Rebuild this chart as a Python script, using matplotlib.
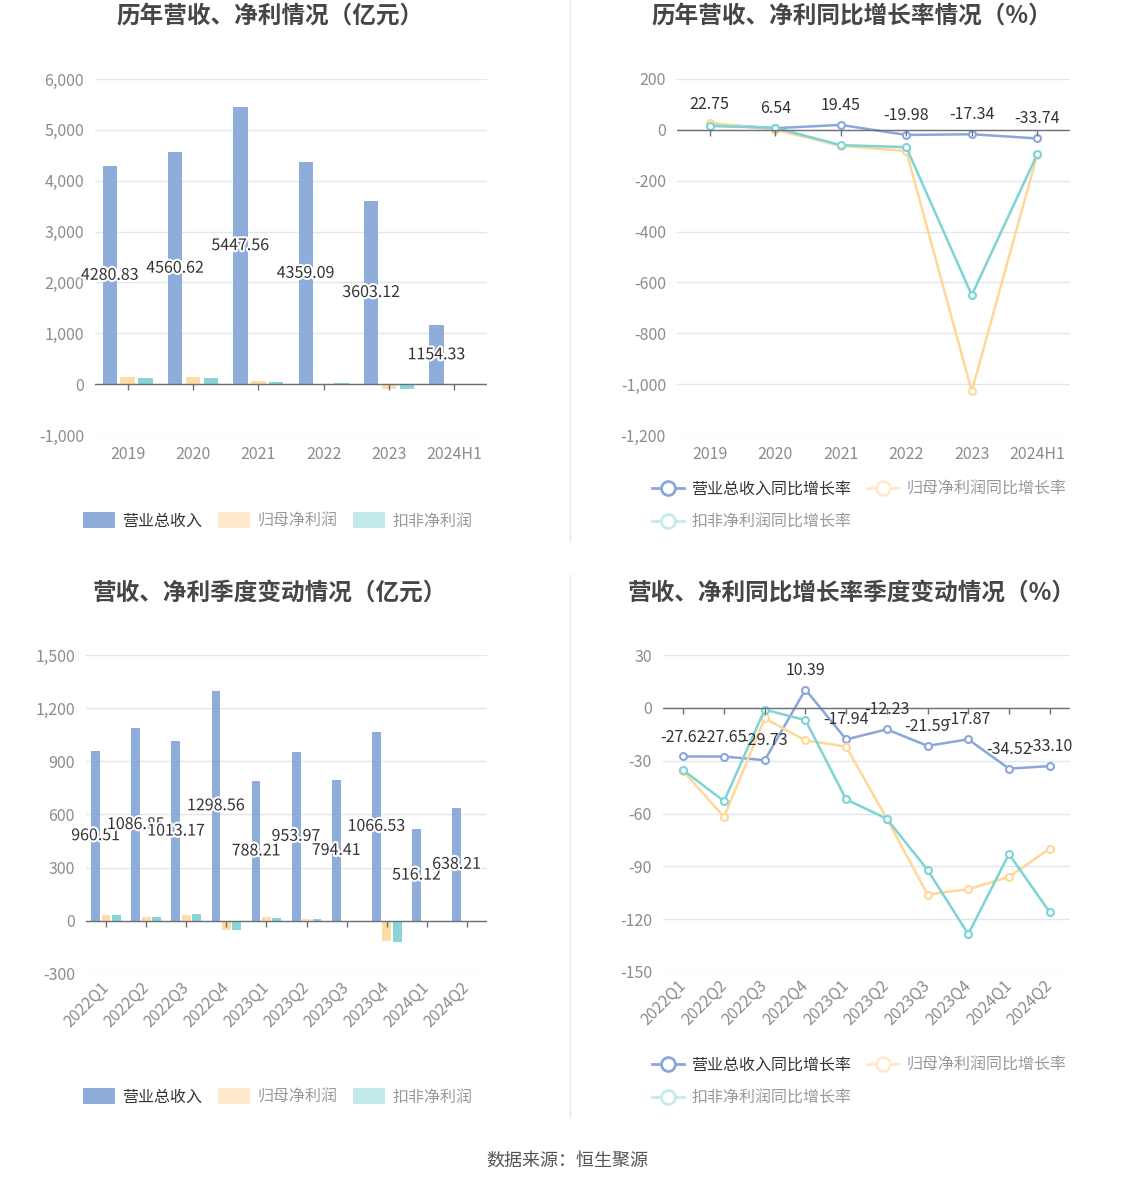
import matplotlib
matplotlib.use("Agg")
import matplotlib.pyplot as plt
import matplotlib.patheffects as pe
from matplotlib.lines import Line2D
from matplotlib.patches import Patch
import numpy as np

plt.rcParams['font.family'] = ['Noto Sans CJK SC', 'DejaVu Sans']

W, H = 1134, 1188

# ---- data ----
years = ["2019", "2020", "2021", "2022", "2023", "2024H1"]
rev_year = [4280.83, 4560.62, 5447.56, 4359.09, 3603.12, 1154.33]
np_year = [140, 142, 52, 8, -90, 2]
dnp_year = [120, 128, 45, 14, -100, 1]

rev_yoy_year = [22.75, 6.54, 19.45, -19.98, -17.34, -33.74]
np_yoy_year = [28, 0, -63, -83, -1028, -98]
dnp_yoy_year = [15, 8, -60, -68, -650, -96]

quarters = ["2022Q1", "2022Q2", "2022Q3", "2022Q4", "2023Q1",
            "2023Q2", "2023Q3", "2023Q4", "2024Q1", "2024Q2"]
rev_q = [960.51, 1086.85, 1013.17, 1298.56, 788.21, 953.97, 794.41, 1066.53, 516.12, 638.21]
np_q = [32, 20, 34, -53, 20, 8, 1, -112, 0.5, 0.5]
dnp_q = [32, 20, 38, -50, 15, 8, 1, -118, 1, 0.3]

rev_yoy_q = [-27.62, -27.65, -29.73, 10.39, -17.94, -12.23, -21.59, -17.87, -34.52, -33.10]
np_yoy_q = [-36, -62, -6, -18.5, -22, -63, -106, -103, -96, -80]
dnp_yoy_q = [-35.5, -53, -1, -7, -52, -63, -92, -128.5, -83, -116]

bar_labels = ["营业总收入", "归母净利润", "扣非净利润"]
line_labels = ["营业总收入同比增长率", "归母净利润同比增长率", "扣非净利润同比增长率"]

BLUE = "#8EADDB"
YEL = "#FFDCA3"
TEAL = "#88D4D7"
L_BLUE = "#8BA7DA"
L_YEL = "#FFD898"
L_TEAL = "#7ED3D5"
AX = "#6E7079"
TICK = "#8C8C8C"

fig = plt.figure(figsize=(W / 100, H / 100), dpi=100)


def px_axes(l, t, r, b):
    return fig.add_axes([l / W, 1 - b / H, (r - l) / W, (b - t) / H])


def style(ax, yticks, n):
    ax.set_ylim(yticks[0], yticks[-1])
    ax.set_yticks(yticks)
    ax.set_yticklabels([f"{v:,}" for v in yticks])
    ax.set_xlim(-0.5, n - 0.5)
    ax.grid(axis='y', color='#E0E6F1', lw=1)
    ax.set_axisbelow(True)
    for s in ax.spines.values():
        s.set_visible(False)
    ax.tick_params(axis='both', length=0, colors=TICK, labelsize=11.5, pad=8)
    ax.axhline(0, color=AX, lw=1, zorder=4)
    ax.plot(range(n), [0] * n, ls='none', marker=3, ms=4.5, color=AX, mew=1, zorder=4)


def bars(ax, cats, rev, npv, dnp, w, off):
    x = np.arange(len(cats))
    b1 = ax.bar(x - off, rev, w, color=BLUE, zorder=3)
    ax.bar(x, npv, w, color=YEL, zorder=3)
    ax.bar(x + off, dnp, w, color=TEAL, zorder=3)
    ax.bar_label(b1, labels=[f"{v:.2f}" for v in rev], label_type='center',
                 fontsize=11.5, color='#333333', zorder=5,
                 path_effects=[pe.withStroke(linewidth=3, foreground='white')])


def lines(ax, cats, rev, npv, dnp):
    x = np.arange(len(cats))
    kw = dict(lw=1.8, marker='o', ms=5, mfc='white', mew=1.5, zorder=3)
    ax.plot(x, rev, color=L_BLUE, mec=L_BLUE, **kw)
    ax.plot(x, npv, color=L_YEL, mec=L_YEL, **kw)
    ax.plot(x, dnp, color=L_TEAL, mec=L_TEAL, **kw)
    for i, v in enumerate(rev):
        ax.annotate(f"{v:.2f}", (i, v), xytext=(0, 14), textcoords='offset points',
                    ha='center', va='center', fontsize=11.5, color='#333333', zorder=6)


# top-left
ax1 = px_axes(95, 79, 487, 435)
bars(ax1, years, rev_year, np_year, dnp_year, 0.22, 0.275)
style(ax1, list(range(-1000, 6001, 1000)), len(years))
ax1.set_xticks(range(len(years)), years)

# top-right
ax2 = px_axes(677, 79, 1070, 435)
lines(ax2, years, rev_yoy_year, np_yoy_year, dnp_yoy_year)
style(ax2, list(range(-1200, 201, 200)), len(years))
ax2.set_xticks(range(len(years)), years)

# bottom-left
ax3 = px_axes(86, 655, 487, 974)
bars(ax3, quarters, rev_q, np_q, dnp_q, 0.22, 0.26)
style(ax3, list(range(-300, 1501, 300)), len(quarters))
ax3.set_xticks(range(len(quarters)), quarters, rotation=45, ha='right',
               va='center', rotation_mode='anchor')

# bottom-right
ax4 = px_axes(663, 655, 1070, 972)
lines(ax4, quarters, rev_yoy_q, np_yoy_q, dnp_yoy_q)
style(ax4, list(range(-150, 31, 30)), len(quarters))
ax4.set_xticks(range(len(quarters)), quarters, rotation=45, ha='right',
               va='center', rotation_mode='anchor')

# titles
tkw = dict(ha='center', va='center', fontsize=17, fontweight='bold', color='#464646')
fig.text(270 / W, 1 - 17 / H, "历年营收、净利情况（亿元）", **tkw)
fig.text(852 / W, 1 - 17 / H, "历年营收、净利同比增长率情况（%）", **tkw)
fig.text(270 / W, 1 - 593 / H, "营收、净利季度变动情况（亿元）", **tkw)
fig.text(852 / W, 1 - 593 / H, "营收、净利同比增长率季度变动情况（%）", **tkw)

# legends
for yy in (521, 1097):
    hs = [Patch(facecolor=BLUE), Patch(facecolor="#FFEACB"), Patch(facecolor="#C3EAEB")]
    leg = fig.legend(hs, bar_labels, loc='center left', bbox_to_anchor=(83 / W, 1 - yy / H),
                     ncol=3, frameon=False, fontsize=11.5, handlelength=2.0, handleheight=1.1,
                     handletextpad=0.45, columnspacing=1.0, borderaxespad=0, borderpad=0)
    for i, t in enumerate(leg.get_texts()):
        t.set_color('#333333' if i == 0 else '#999999')

for yy in (506, 1082):
    def lh(c):
        return Line2D([], [], color=c, lw=2, marker='o', ms=10, mfc='white', mec=c, mew=2)
    hs = [lh(L_BLUE), lh("#C6EBEC"), lh("#FFEACB")]
    labs = [line_labels[0], line_labels[2], line_labels[1]]
    leg = fig.legend(hs, labs, loc='center left', bbox_to_anchor=(652 / W, 1 - yy / H),
                     ncol=2, frameon=False, fontsize=11.5, handlelength=2.0,
                     handletextpad=0.45, columnspacing=1.0, labelspacing=1.0,
                     borderaxespad=0, borderpad=0)
    for i, t in enumerate(leg.get_texts()):
        t.set_color('#333333' if i == 0 else '#999999')

# separators
fig.add_artist(Line2D([570 / W, 570 / W], [1, 1 - 541 / H], color='#E8E8E8', lw=1))
fig.add_artist(Line2D([570 / W, 570 / W], [1 - 575 / H, 1 - 1117 / H], color='#E8E8E8', lw=1))

fig.text(567 / W, 1 - 1161 / H, "数据来源：恒生聚源", ha='center', va='center',
         fontsize=13, color='#555555')

fig.savefig("out.png", dpi=100)
